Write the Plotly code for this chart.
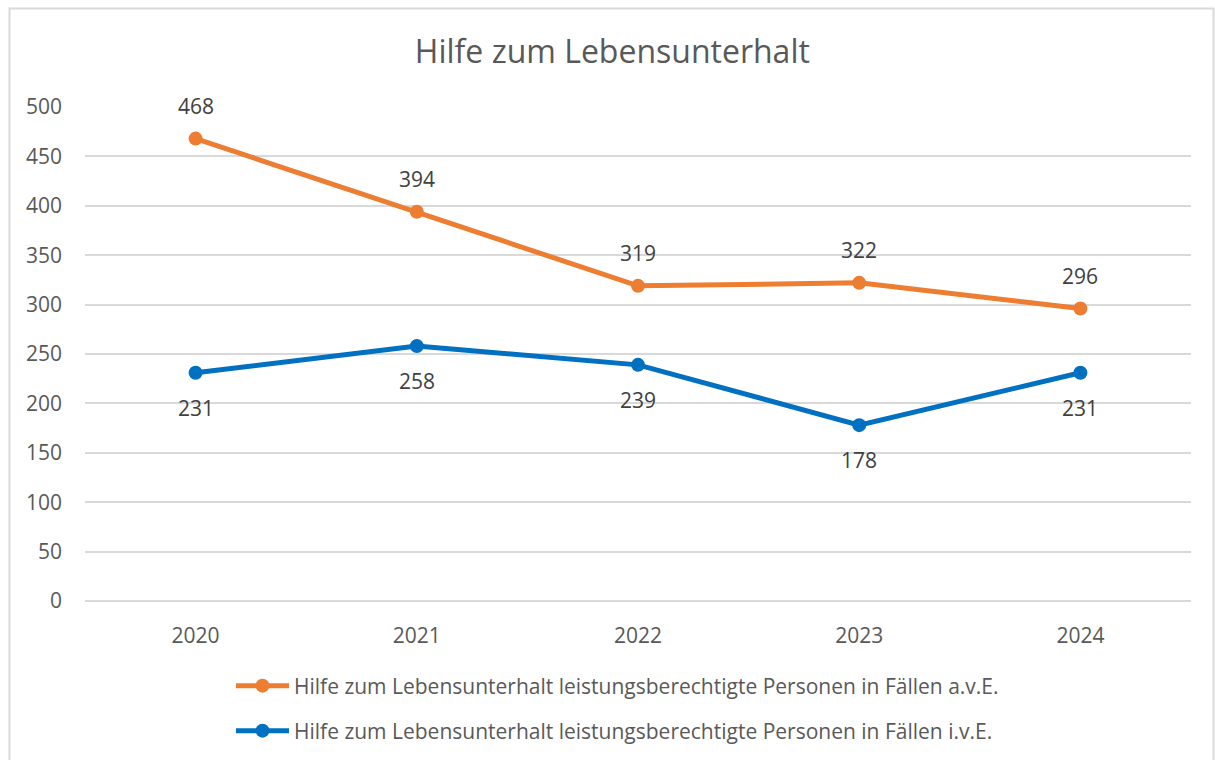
import plotly.graph_objects as go

years = ["2020", "2021", "2022", "2023", "2024"]
ave_values = [468, 394, 319, 322, 296]
ive_values = [231, 258, 239, 178, 231]
name_ave = "Hilfe zum Lebensunterhalt leistungsberechtigte Personen in Fällen a.v.E."
name_ive = "Hilfe zum Lebensunterhalt leistungsberechtigte Personen in Fällen i.v.E."
title_text = "Hilfe zum Lebensunterhalt"

ORANGE = "#ED7D31"
BLUE = "#0070C0"
FONT = "Open Sans, Noto Sans, sans-serif"
GRAY = "#595959"
LABEL = "#404040"

fig = go.Figure()
fig.add_trace(go.Scatter(
    x=years, y=ave_values, name=name_ave, mode="lines+markers",
    line=dict(color=ORANGE, width=5), marker=dict(color=ORANGE, size=14),
    legend="legend", hoverinfo="skip"))
fig.add_trace(go.Scatter(
    x=years, y=ive_values, name=name_ive, mode="lines+markers",
    line=dict(color=BLUE, width=5), marker=dict(color=BLUE, size=14),
    legend="legend2", hoverinfo="skip"))

# category index positions (annotation x on a category axis: numeric-like
# strings such as "2020" would be read as an index, so use the index itself)
annotations = []
for i, v in enumerate(ave_values):
    annotations.append(dict(x=i, y=v, xref="x", yref="y", text=str(v), showarrow=False,
                            yshift=33, font=dict(family=FONT, size=21, color=LABEL)))
for i, v in enumerate(ive_values):
    annotations.append(dict(x=i, y=v, xref="x", yref="y", text=str(v), showarrow=False,
                            yshift=-35, font=dict(family=FONT, size=21, color=LABEL)))

legend_common = dict(
    orientation="v", xref="container", yref="container", xanchor="left", yanchor="middle",
    font=dict(family=FONT, size=21, color=GRAY), bgcolor="rgba(0,0,0,0)",
    itemwidth=53, borderwidth=0)

fig.update_layout(
    width=1215, height=760,
    margin=dict(l=85, r=24, t=107, b=159, autoexpand=False),
    paper_bgcolor="white", plot_bgcolor="white",
    font=dict(family=FONT, color=GRAY),
    title=dict(text=title_text, xref="container", yref="container",
               x=0.504, y=1 - 52 / 760, xanchor="center", yanchor="middle",
               font=dict(family=FONT, size=32, color=GRAY)),
    xaxis=dict(type="category", showgrid=False, showline=False, zeroline=False,
               tickfont=dict(family=FONT, size=21, color=GRAY), ticks="",
               ticklabelstandoff=20, range=[-0.5, 4.5], automargin=False),
    yaxis=dict(range=[0, 500], dtick=50, showgrid=True, gridcolor="#D9D9D9", gridwidth=1.5,
               zeroline=True, zerolinecolor="#D9D9D9", zerolinewidth=1.5, showline=False,
               tickfont=dict(family=FONT, size=21, color=GRAY), ticks="",
               ticklabelstandoff=22, automargin=False),
    showlegend=True,
    legend=dict(x=231 / 1215, y=1 - 686 / 760, **legend_common),
    legend2=dict(x=231 / 1215, y=1 - 731 / 760, **legend_common),
    annotations=annotations,
    shapes=[dict(type="rect", xref="paper", yref="paper",
                 x0=(9.5 - 85) / 1106, x1=(1213.5 - 85) / 1106,
                 y0=(601 - 775) / 494, y1=(601 - 8.5) / 494,
                 line=dict(color="#D9D9D9", width=2), fillcolor="rgba(0,0,0,0)",
                 layer="below")],
)

fig.write_html("out.html", config={"displayModeBar": False},
               post_script="document.body.style.margin='0';document.body.style.overflow='hidden';")
